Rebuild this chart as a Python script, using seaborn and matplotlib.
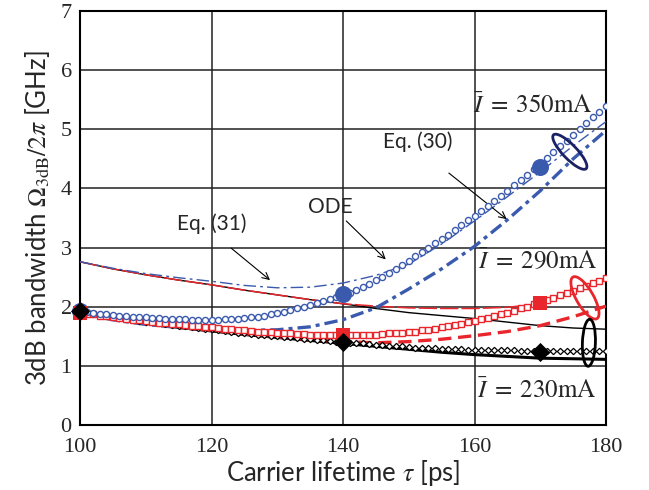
import numpy as np
import pandas as pd
import matplotlib
matplotlib.use("Agg")
import matplotlib.pyplot as plt
import seaborn as sns
from matplotlib.patches import Ellipse
from matplotlib.transforms import ScaledTranslation

# ---------------- data ----------------
tau_dense = list(range(100, 181))  # ODE results, every 1 ps
ode_350 = [1.92, 1.91, 1.89, 1.88, 1.87, 1.86, 1.85, 1.84, 1.83, 1.83,
           1.82, 1.81, 1.81, 1.80, 1.80, 1.79, 1.79, 1.78, 1.78, 1.78,
           1.78, 1.78, 1.79, 1.79, 1.80, 1.81, 1.82, 1.83, 1.85, 1.87,
           1.89, 1.91, 1.94, 1.97, 2.00, 2.03, 2.06, 2.10, 2.13, 2.17,
           2.20, 2.24, 2.29, 2.34, 2.39, 2.45, 2.51, 2.57, 2.64, 2.71,
           2.78, 2.85, 2.92, 2.99, 3.07, 3.14, 3.22, 3.30, 3.38, 3.46,
           3.54, 3.62, 3.70, 3.79, 3.87, 3.96, 4.05, 4.14, 4.23, 4.33,
           4.42, 4.52, 4.61, 4.71, 4.80, 4.90, 5.00, 5.10, 5.20, 5.30, 5.40]
ode_290 = [1.90, 1.88, 1.87, 1.85, 1.84, 1.82, 1.81, 1.80, 1.78, 1.77,
           1.76, 1.75, 1.73, 1.72, 1.71, 1.70, 1.69, 1.68, 1.67, 1.66,
           1.65, 1.64, 1.63, 1.62, 1.61, 1.60, 1.59, 1.58, 1.58, 1.57,
           1.56, 1.56, 1.55, 1.54, 1.54, 1.53, 1.53, 1.53, 1.53, 1.52,
           1.52, 1.52, 1.52, 1.53, 1.53, 1.53, 1.54, 1.55, 1.55, 1.56,
           1.57, 1.58, 1.60, 1.61, 1.63, 1.65, 1.67, 1.69, 1.71, 1.74,
           1.76, 1.79, 1.81, 1.84, 1.87, 1.90, 1.93, 1.97, 2.00, 2.04,
           2.07, 2.11, 2.15, 2.19, 2.23, 2.27, 2.31, 2.35, 2.40, 2.44, 2.48]
ode_230 = [1.92, 1.90, 1.88, 1.86, 1.84, 1.82, 1.81, 1.79, 1.78, 1.76,
           1.75, 1.74, 1.72, 1.71, 1.69, 1.68, 1.67, 1.66, 1.64, 1.63,
           1.62, 1.61, 1.59, 1.58, 1.56, 1.55, 1.54, 1.53, 1.52, 1.51,
           1.50, 1.49, 1.48, 1.47, 1.46, 1.45, 1.44, 1.43, 1.42, 1.41,
           1.40, 1.39, 1.38, 1.38, 1.37, 1.36, 1.35, 1.34, 1.34, 1.33,
           1.32, 1.31, 1.31, 1.30, 1.30, 1.29, 1.29, 1.28, 1.28, 1.27,
           1.27, 1.27, 1.26, 1.26, 1.26, 1.26, 1.26, 1.25, 1.25, 1.25,
           1.25, 1.25, 1.25, 1.25, 1.25, 1.25, 1.25, 1.25, 1.25, 1.25, 1.25]

tau_eq = [100, 105, 110, 115, 120, 125, 130, 135, 140, 145, 150, 155, 160, 165, 170, 175, 180]
eq30_350 = [1.88, 1.78, 1.70, 1.65, 1.62, 1.60, 1.61, 1.66, 1.78, 1.98, 2.30, 2.64, 3.02, 3.47, 3.96, 4.50, 4.98]
eq31_350 = [2.76, 2.65, 2.56, 2.49, 2.43, 2.36, 2.32, 2.33, 2.40, 2.53, 2.72, 3.06, 3.45, 3.86, 4.28, 4.72, 5.13]
eq30_290 = [1.90, 1.80, 1.72, 1.65, 1.60, 1.54, 1.49, 1.44, 1.41, 1.39, 1.41, 1.45, 1.51, 1.58, 1.68, 1.83, 2.01]
eq31_290 = [2.76, 2.64, 2.54, 2.45, 2.37, 2.28, 2.20, 2.12, 2.05, 2.01, 1.98, 1.97, 1.97, 1.99, 2.05, 2.25, 2.47]
eq30_230 = [1.90, 1.80, 1.72, 1.65, 1.59, 1.53, 1.48, 1.43, 1.38, 1.33, 1.28, 1.23, 1.19, 1.16, 1.13, 1.12, 1.11]
eq31_230 = [2.76, 2.64, 2.54, 2.45, 2.37, 2.28, 2.20, 2.12, 2.05, 1.97, 1.90, 1.85, 1.80, 1.74, 1.68, 1.64, 1.62]

tau_big = [100, 140, 170]
big_350 = [1.92, 2.21, 4.37]
big_290 = [1.90, 1.53, 2.07]
big_230 = [1.93, 1.40, 1.24]

current_labels = ["350mA", "290mA", "230mA"]

BLUE = "#3a5aae"
RED = "#e8262b"
NAVY = "#1c2163"
BLACK = "#000000"

# ---------------- figure ----------------
sns.set_theme(style="white")
plt.rcParams["font.family"] = ["Lato", "DejaVu Sans"]
plt.rcParams["mathtext.fontset"] = "stix"

fig = plt.figure(figsize=(6.49, 4.90), dpi=100)
ax = fig.add_axes([80 / 649, 65 / 490, 526 / 649, 414 / 490])

ax.set_xlim(100, 180)
ax.set_ylim(0, 7)
ax.set_xticks([100, 120, 140, 160, 180])
ax.set_yticks(range(0, 8))
ax.grid(True, color="#222222", linewidth=1.1)
ax.set_axisbelow(True)
for s in ax.spines.values():
    s.set_color("black")
    s.set_linewidth(1.5)
ax.tick_params(length=0, labelsize=16)
ax.tick_params(axis="x", pad=9)
ax.tick_params(axis="y", pad=6)
for lab in ax.get_xticklabels() + ax.get_yticklabels():
    lab.set_family("Liberation Serif")

# Eq.(31) thin lines
sns.lineplot(x=tau_eq, y=eq31_230, ax=ax, color=BLACK, linewidth=1.0, zorder=3)
sns.lineplot(x=tau_eq, y=eq31_290, ax=ax, color=RED, linewidth=1.1, zorder=3).lines[-1].set_dashes([12, 2])
sns.lineplot(x=tau_eq, y=eq31_350, ax=ax, color=BLUE, linewidth=1.0, zorder=3).lines[-1].set_dashes([9, 3, 2, 3])

# Eq.(30) thick lines
sns.lineplot(x=tau_eq, y=eq30_230, ax=ax, color=BLACK, linewidth=2.2, zorder=3)
sns.lineplot(x=tau_eq, y=eq30_290, ax=ax, color=RED, linewidth=2.4, zorder=3).lines[-1].set_dashes([4, 2])
sns.lineplot(x=tau_eq, y=eq30_350, ax=ax, color=BLUE, linewidth=2.4, zorder=3).lines[-1].set_dashes([4, 1.5, 1.2, 1.5])

# ODE markers
sns.lineplot(x=tau_dense, y=ode_230, ax=ax, linestyle="none", marker="D", markersize=3.2,
             markerfacecolor="white", markeredgecolor=BLACK, markeredgewidth=0.9, zorder=4)
sns.lineplot(x=tau_dense, y=ode_290, ax=ax, linestyle="none", marker="s", markersize=4.6,
             markerfacecolor="white", markeredgecolor=RED, markeredgewidth=1.0, zorder=4)
sns.lineplot(x=tau_dense, y=ode_350, ax=ax, linestyle="none", marker="o", markersize=4.4,
             markerfacecolor="white", markeredgecolor=BLUE, markeredgewidth=1.0, zorder=4)

# big markers
sns.scatterplot(x=tau_big, y=big_350, ax=ax, marker="o", s=150, color=BLUE, edgecolor=BLUE,
                linewidth=0, zorder=6, clip_on=False)
sns.scatterplot(x=tau_big, y=big_290, ax=ax, marker="s", s=105, color=RED, edgecolor=RED,
                linewidth=0, zorder=7, clip_on=False)
sns.scatterplot(x=tau_big, y=big_230, ax=ax, marker="D", s=95, color=BLACK, edgecolor=BLACK,
                linewidth=0, zorder=8, clip_on=False)

ax.set_xlim(100, 180)
ax.set_ylim(0, 7)

# ellipses (size in pixels, positioned in data coords)
def add_ellipse(cx, cy, w_px, h_px, angle, color):
    tr = fig.dpi_scale_trans + ScaledTranslation(cx, cy, ax.transData)
    e = Ellipse((0, 0), w_px / 100, h_px / 100, angle=angle, transform=tr,
                fill=False, edgecolor=color, linewidth=2.0, zorder=9)
    ax.add_artist(e)

add_ellipse(174.5, 4.62, 47, 14, -46, NAVY)
add_ellipse(176.8, 2.15, 48, 17, -60, RED)
add_ellipse(177.4, 1.39, 47, 13, 88, BLACK)

# labels
ax.set_xlabel(r"Carrier lifetime $\tau$ [ps]", fontsize=18.5, labelpad=1)
ax.set_ylabel(r"3dB bandwidth $\Omega_{\mathrm{3dB}}/2\pi$ [GHz]", fontsize=18.5, labelpad=6)

# annotations
arrow = dict(arrowstyle="->", color="black", linewidth=0.8, shrinkA=0, shrinkB=0)
ax.annotate("", xy=(164.9, 3.48), xytext=(156.1, 4.26), arrowprops=arrow)
ax.text(151.3, 4.79, "Eq. (30)", fontsize=15, ha="center", va="center")
ax.annotate("", xy=(146.5, 2.80), xytext=(140.5, 3.45), arrowprops=arrow)
ax.text(138.1, 3.68, "ODE", fontsize=15, ha="center", va="center")
ax.annotate("", xy=(128.9, 2.45), xytext=(123.0, 2.99), arrowprops=arrow)
ax.text(120.0, 3.40, "Eq. (31)", fontsize=15, ha="center", va="center")

label_pos = [(159.8, 5.41), (160.5, 2.79), (160.4, 0.59)]
for (lx, ly), lab in zip(label_pos, current_labels):
    ax.text(lx, ly, r"$\bar{I}\;=\;$" + r"$\mathrm{" + lab + "}$", fontsize=18,
            ha="left", va="center", zorder=10)

fig.savefig("out.png", dpi=100)
